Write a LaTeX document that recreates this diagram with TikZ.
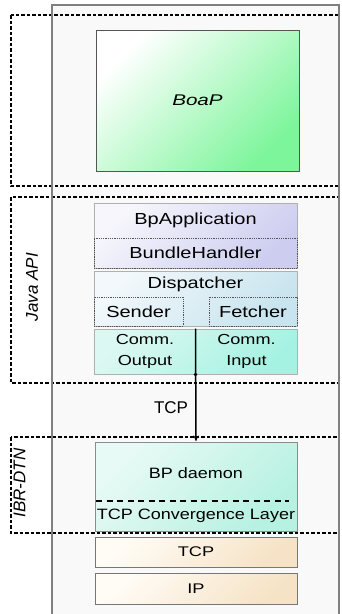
\documentclass[tikz,border=0pt]{standalone}
\usepackage{fontspec}
\setmainfont{Liberation Sans}
\usetikzlibrary{arrows.meta}
\definecolor{framegray}{HTML}{808080}
\definecolor{framefill}{HTML}{F9F9F9}
\definecolor{boxgray}{HTML}{8C8C8C}
\definecolor{darkgray}{HTML}{555555}
\definecolor{boapgreen}{HTML}{7DF59B}
\definecolor{lavlight}{HTML}{F6F6FC}
\definecolor{lavdark}{HTML}{CDCDF0}
\definecolor{displight}{HTML}{F2F8FB}
\definecolor{dispdark}{HTML}{C8E4EE}
\definecolor{commlight}{HTML}{DCF8F2}
\definecolor{commdark}{HTML}{A6F2E2}
\definecolor{mintlight}{HTML}{E8FAF5}
\definecolor{mintdark}{HTML}{B6F1E1}
\definecolor{creamlight}{HTML}{FFFCF6}
\definecolor{creamdark}{HTML}{F6E3C6}
\newcommand{\wtxt}[2][1.25]{\scalebox{#1}[1]{#2}}

\begin{document}
\begin{tikzpicture}
[x=1pt, y=-1pt,
  zonedecorate/.style={draw=black, line width=1.3pt, dash pattern=on 3.5pt off 2pt},
  layerdecorate/.style 2 args={shape=rectangle, inner sep=0pt, draw=boxgray,
    line width=1pt, top color=#1, bottom color=#2, shading angle=45},
  dotdecorate/.style={shape=rectangle, inner sep=0pt, draw=darkgray,
    line width=0.8pt, dash pattern=on 0.7pt off 1.1pt},
  textdecorate/.style={inner sep=0pt, font=\fontsize{16}{19}\selectfont},
  smalldecorate/.style={inner sep=0pt, font=\fontsize{14.5}{21}\selectfont, align=center},
  sidedecorate/.style={inner sep=0pt, rotate=90, font=\fontsize{17}{20}\selectfont\itshape},
  arrowdecorate/.style={-{Stealth[length=6pt,width=5pt]}, line width=1.5pt}]
\useasboundingbox (0,0) rectangle (341,614);
%% frame
\fill[framefill] (52,5) rectangle (339,618);
%% dashed zones
\foreach \top/\bottom in {15/186, 197/383, 437/533} {
  \draw[zonedecorate] (11,\top) rectangle (339,\bottom);
}
\draw[framegray, line width=2pt] (52,618) -- (52,5) -- (339,5) -- (339,618);
\node[sidedecorate] (javaapi) at (32,287) {Java API};
\node[sidedecorate] (ibrdtn) at (19.5,483) {IBR-DTN};
%% BoaP
\node[layerdecorate={white}{boapgreen}, draw=darkgray, minimum width=203pt,
  minimum height=141pt, font=\fontsize{15.5}{18}\selectfont\itshape]
  (boap) at (197.5,100.5) {\wtxt[1.33]{BoaP}};
%% Java API
\node[layerdecorate={lavlight}{lavdark}, draw=boxgray!70, minimum width=203pt,
  minimum height=65pt] (bpapp) at (195.5,235.5) {};
\node[textdecorate] (bpapptext) at (195.5,220.5) {\wtxt{BpApplication}};
\node[dotdecorate, minimum width=203pt, minimum height=30pt, textdecorate]
  (bundle) at (195.5,253) {\wtxt{BundleHandler}};
\node[layerdecorate={displight}{dispdark}, draw=boxgray!70, minimum width=203pt,
  minimum height=55pt] (disp) at (195.5,298.5) {};
\node[textdecorate] (disptext) at (195.5,284) {\wtxt{Dispatcher}};
\foreach \nodename/\x/\w/\name in {sender/138.5/89/Sender, fetcher/253/88/Fetcher} {
  \node[dotdecorate, minimum width=\w pt, minimum height=29pt, textdecorate]
    (\nodename) at (\x,311.5) {\wtxt{\name}};
}
\node[layerdecorate={commlight}{commdark}, draw=boxgray!70, minimum width=203pt,
  minimum height=45pt] (comm) at (195.5,351.5) {};
\node[smalldecorate] (commout) at (145,351.5) {\wtxt{Comm.}\\\wtxt{Output}};
\node[smalldecorate] (commin) at (246.5,351.5) {\wtxt{Comm.}\\\wtxt{Input}};
%% IBR-DTN
\node[layerdecorate={mintlight}{mintdark}, minimum width=202pt,
  minimum height=89pt] (bpd) at (196,486.5) {};
\node[smalldecorate, font=\fontsize{15}{18}\selectfont] (bpdtext) at (196,473)
  {\wtxt[1.2]{BP daemon}};
\node[smalldecorate, font=\fontsize{15}{18}\selectfont] (convtext) at (196,516)
  {\wtxt[1.2]{TCP Convergence Layer}};
\draw[line width=1.1pt, dash pattern=on 6pt off 4.5pt] (96,501) -- (289,501);
\foreach \nodename/\y/\h/\name in {tcp/552/30/TCP, ip/588.5/31/IP} {
  \node[layerdecorate={creamlight}{creamdark}, draw=darkgray!80, minimum width=202pt,
    minimum height=\h pt, smalldecorate, font=\fontsize{14}{17}\selectfont]
    (\nodename) at (196,\y) {\wtxt[1.3]{\name}};
}
%% link
\draw[arrowdecorate] (comm.north) -- (bpd.north);
\fill (comm.south) circle (1.8);
\node[textdecorate, font=\fontsize{17}{20}\selectfont] (tcplink) at (171,408) {TCP};
\end{tikzpicture}
\end{document}
